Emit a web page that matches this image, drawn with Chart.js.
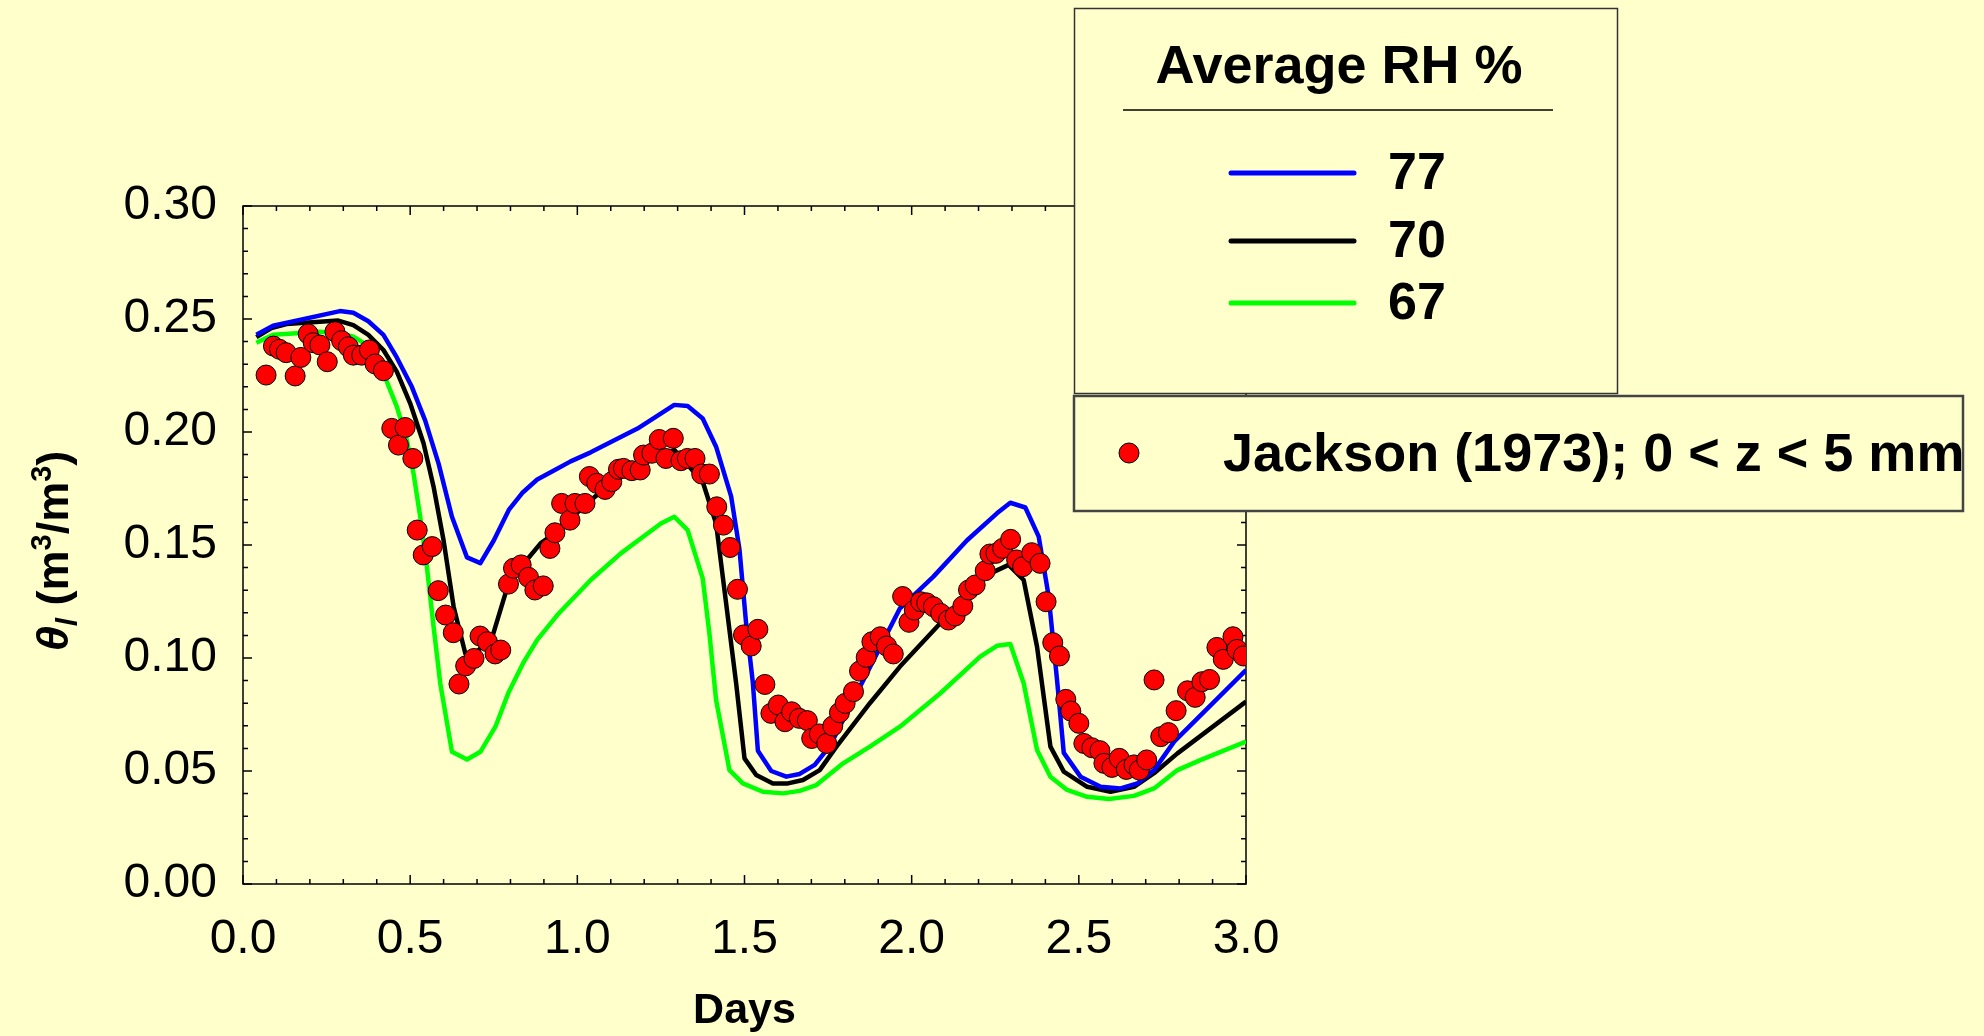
<!DOCTYPE html>
<html>
<head>
<meta charset="utf-8">
<title>Average RH</title>
<script src="https://cdn.jsdelivr.net/npm/chart.js@4.4.1/dist/chart.umd.min.js"></script>
<style>
  html, body { margin: 0; padding: 0; background: #FFFFCC; }
  #wrap { width: 1984px; height: 1036px; }
</style>
</head>
<body>
<div id="wrap"><canvas id="rh-chart" width="1984" height="1036"></canvas></div>
<script>
// simulated water content, one curve per average RH
const rhLabels = ['77', '70', '67'];

const days77 = [0.04, 0.09, 0.29, 0.33, 0.375, 0.42, 0.46, 0.505, 0.545, 0.585, 0.625, 0.67, 0.71, 0.75, 0.795, 0.835, 0.88, 0.93, 0.98, 1.04, 1.18, 1.29, 1.33, 1.375, 1.415, 1.46, 1.485, 1.505, 1.525, 1.54, 1.58, 1.625, 1.665, 1.71, 1.755, 1.965, 2.065, 2.165, 2.255, 2.295, 2.34, 2.38, 2.41, 2.435, 2.455, 2.505, 2.565, 2.625, 2.675, 2.725, 2.785, 3.0];
const theta77 = [0.243, 0.247, 0.2535, 0.2528, 0.249, 0.243, 0.233, 0.220, 0.205, 0.186, 0.1625, 0.1445, 0.142, 0.152, 0.1655, 0.173, 0.179, 0.183, 0.187, 0.191, 0.2015, 0.212, 0.2115, 0.206, 0.1935, 0.1715, 0.148, 0.115, 0.089, 0.059, 0.050, 0.0475, 0.0487, 0.0527, 0.061, 0.122, 0.136, 0.152, 0.164, 0.1687, 0.1666, 0.1537, 0.127, 0.090, 0.058, 0.0475, 0.043, 0.0423, 0.0445, 0.0504, 0.063, 0.0947];

const days70 = [0.04, 0.085, 0.13, 0.285, 0.33, 0.375, 0.42, 0.46, 0.50, 0.54, 0.57, 0.60, 0.63, 0.665, 0.675, 0.745, 0.79, 0.84, 0.89, 0.93, 1.05, 1.13, 1.23, 1.29, 1.375, 1.415, 1.445, 1.475, 1.50, 1.535, 1.585, 1.63, 1.675, 1.725, 1.775, 1.875, 1.965, 2.085, 2.215, 2.29, 2.335, 2.375, 2.415, 2.455, 2.525, 2.595, 2.665, 2.725, 2.795, 3.0];
const theta70 = [0.242, 0.246, 0.2478, 0.2493, 0.2473, 0.243, 0.2363, 0.2267, 0.2127, 0.195, 0.1758, 0.152, 0.1227, 0.102, 0.0995, 0.109, 0.131, 0.1418, 0.1507, 0.155, 0.171, 0.181, 0.189, 0.192, 0.178, 0.1595, 0.1242, 0.0888, 0.0556, 0.0482, 0.0445, 0.0445, 0.046, 0.0504, 0.0608, 0.080, 0.0962, 0.1153, 0.136, 0.1412, 0.1345, 0.105, 0.0608, 0.0497, 0.043, 0.0408, 0.043, 0.049, 0.0578, 0.0807];

const days67 = [0.04, 0.09, 0.23, 0.29, 0.33, 0.38, 0.42, 0.46, 0.49, 0.51, 0.53, 0.55, 0.57, 0.59, 0.625, 0.67, 0.71, 0.755, 0.795, 0.84, 0.88, 0.94, 1.04, 1.13, 1.25, 1.29, 1.33, 1.375, 1.395, 1.415, 1.455, 1.495, 1.555, 1.615, 1.665, 1.715, 1.795, 1.875, 1.965, 2.085, 2.205, 2.255, 2.295, 2.335, 2.375, 2.415, 2.465, 2.525, 2.59, 2.665, 2.725, 2.795, 2.865, 3.0];
const theta67 = [0.2395, 0.243, 0.2444, 0.2437, 0.2422, 0.2377, 0.226, 0.2112, 0.1965, 0.1817, 0.1625, 0.1404, 0.1138, 0.0888, 0.0585, 0.0551, 0.0585, 0.0696, 0.085, 0.0983, 0.108, 0.119, 0.1345, 0.1463, 0.1595, 0.1625, 0.1566, 0.1352, 0.1109, 0.0814, 0.0504, 0.0445, 0.0408, 0.0401, 0.0412, 0.0438, 0.0534, 0.0608, 0.0696, 0.0843, 0.1006, 0.1054, 0.1062, 0.0888, 0.0593, 0.0475, 0.0416, 0.0386, 0.0376, 0.039, 0.0423, 0.0504, 0.0549, 0.063];

// measured, Jackson (1973), 0 < z < 5 mm
const jacksonLabel = 'Jackson (1973); 0 < z < 5 mm';
const jacksonDays = [0.069, 0.091, 0.109, 0.129, 0.156, 0.173, 0.195, 0.21, 0.23, 0.252, 0.275, 0.295, 0.315, 0.33, 0.355, 0.378, 0.395, 0.42, 0.445, 0.465, 0.485, 0.508, 0.521, 0.539, 0.566, 0.584, 0.606, 0.629, 0.646, 0.666, 0.691, 0.709, 0.731, 0.754, 0.771, 0.794, 0.809, 0.832, 0.854, 0.873, 0.898, 0.918, 0.933, 0.953, 0.978, 0.993, 1.023, 1.036, 1.058, 1.083, 1.103, 1.123, 1.138, 1.163, 1.188, 1.198, 1.223, 1.245, 1.265, 1.287, 1.31, 1.329, 1.352, 1.372, 1.395, 1.417, 1.437, 1.457, 1.479, 1.497, 1.52, 1.54, 1.561, 1.579, 1.601, 1.621, 1.641, 1.664, 1.688, 1.701, 1.724, 1.746, 1.764, 1.784, 1.801, 1.826, 1.844, 1.864, 1.881, 1.906, 1.925, 1.945, 1.973, 1.992, 2.008, 2.027, 2.045, 2.065, 2.087, 2.11, 2.13, 2.153, 2.17, 2.19, 2.22, 2.234, 2.252, 2.272, 2.296, 2.314, 2.332, 2.359, 2.384, 2.402, 2.422, 2.442, 2.461, 2.476, 2.5, 2.515, 2.539, 2.563, 2.575, 2.599, 2.621, 2.642, 2.665, 2.681, 2.703, 2.725, 2.745, 2.768, 2.791, 2.825, 2.848, 2.868, 2.891, 2.913, 2.932, 2.961, 2.973, 2.992];
const jacksonTheta = [0.2252, 0.238, 0.2366, 0.2351, 0.2248, 0.233, 0.2434, 0.2395, 0.2385, 0.2311, 0.2444, 0.2404, 0.2377, 0.234, 0.234, 0.2363, 0.2301, 0.2271, 0.2016, 0.1942, 0.202, 0.1883, 0.1566, 0.1456, 0.1493, 0.1298, 0.119, 0.1112, 0.0885, 0.0965, 0.0998, 0.1097, 0.1072, 0.1018, 0.1035, 0.1327, 0.1397, 0.1412, 0.1357, 0.1301, 0.1319, 0.1485, 0.1554, 0.1684, 0.161, 0.1684, 0.1684, 0.1803, 0.1773, 0.1746, 0.178, 0.1835, 0.1839, 0.1829, 0.1832, 0.1898, 0.1906, 0.1967, 0.1883, 0.1972, 0.1873, 0.1883, 0.1883, 0.1814, 0.1814, 0.1669, 0.1588, 0.1489, 0.1304, 0.1102, 0.1053, 0.1127, 0.0883, 0.0755, 0.0792, 0.0718, 0.0762, 0.0733, 0.0723, 0.0644, 0.0664, 0.0622, 0.0699, 0.0758, 0.0799, 0.0851, 0.0942, 0.1003, 0.1072, 0.1094, 0.1053, 0.1018, 0.1272, 0.1158, 0.1212, 0.1249, 0.1244, 0.1227, 0.1197, 0.1168, 0.1186, 0.123, 0.1301, 0.1323, 0.1386, 0.146, 0.1463, 0.1485, 0.1525, 0.1434, 0.1404, 0.1466, 0.1419, 0.1249, 0.1068, 0.1009, 0.0817, 0.0765, 0.0711, 0.0622, 0.0603, 0.059, 0.0534, 0.0516, 0.0556, 0.0507, 0.0527, 0.0504, 0.0549, 0.0903, 0.0652, 0.067, 0.0767, 0.0855, 0.0826, 0.0895, 0.0905, 0.1047, 0.0994, 0.1094, 0.1038, 0.1009];

const legendTitle = 'Average RH %';
const xTitle = 'Days';

const FAM = "'Liberation Sans', Arial, sans-serif";
const BG = '#FFFFCC';

const toPoints = function(xs, ys) {
    return xs.map(function(x, i) { return {x: x, y: ys[i]}; });
};

// background fill
const bgPlugin = {
    id: 'bg',
    beforeDraw: function(chart) {
        const ctx = chart.ctx;
        ctx.save();
        ctx.fillStyle = BG;
        ctx.fillRect(0, 0, chart.width, chart.height);
        ctx.restore();
    }
};

// box round the plot with inward major / minor ticks on all sides
const frameTicksPlugin = {
    id: 'frameTicks',
    beforeDatasetsDraw: function(chart) {
        const ctx = chart.ctx, a = chart.chartArea;
        const xs = chart.scales.x, ys = chart.scales.y;
        ctx.save();
        ctx.strokeStyle = '#000';
        ctx.lineWidth = 1.5;
        ctx.strokeRect(a.left, a.top, a.right - a.left, a.bottom - a.top);
        ctx.beginPath();
        const nx = Math.round((xs.max - xs.min) / 0.1);
        for (let i = 0; i <= nx; i++) {
            const px = xs.getPixelForValue(xs.min + i * 0.1);
            const len = i % 5 === 0 ? 9 : 5;
            ctx.moveTo(px, a.bottom); ctx.lineTo(px, a.bottom - len);
            ctx.moveTo(px, a.top); ctx.lineTo(px, a.top + len);
        }
        const ny = Math.round((ys.max - ys.min) / 0.01);
        for (let j = 0; j <= ny; j++) {
            const py = ys.getPixelForValue(ys.min + j * 0.01);
            const len = j % 5 === 0 ? 9 : 5;
            ctx.moveTo(a.left, py); ctx.lineTo(a.left + len, py);
            ctx.moveTo(a.right, py); ctx.lineTo(a.right - len, py);
        }
        ctx.stroke();
        ctx.restore();
    }
};

// y title with italic theta, subscript l and superscripts
const yTitlePlugin = {
    id: 'yTitle',
    afterDraw: function(chart) {
        const ctx = chart.ctx, a = chart.chartArea;
        const parts = [
            {t: '\u03B8', f: 'italic bold 45px ' + FAM, dy: 0},
            {t: 'l', f: 'italic bold 30px ' + FAM, dy: 9},
            {t: ' (m', f: 'bold 45px ' + FAM, dy: 0},
            {t: '3', f: 'bold 29px ' + FAM, dy: -17},
            {t: '/m', f: 'bold 45px ' + FAM, dy: 0},
            {t: '3', f: 'bold 29px ' + FAM, dy: -17},
            {t: ')', f: 'bold 45px ' + FAM, dy: 0}
        ];
        ctx.save();
        let w = 0;
        parts.forEach(function(p) { ctx.font = p.f; p.w = ctx.measureText(p.t).width; w += p.w; });
        ctx.translate(68, (a.top + a.bottom) / 2 + 6);
        ctx.rotate(-Math.PI / 2);
        ctx.fillStyle = '#000';
        ctx.textBaseline = 'alphabetic';
        ctx.textAlign = 'left';
        let x = -w / 2;
        parts.forEach(function(p) { ctx.font = p.f; ctx.fillText(p.t, x, p.dy); x += p.w; });
        ctx.restore();
    }
};

// the two legend boxes, drawn over the top right of the plot
const legendBoxPlugin = {
    id: 'legendBoxes',
    afterDraw: function(chart) {
        const ctx = chart.ctx;
        const sets = chart.data.datasets;
        ctx.save();
        // box 1: model curves
        ctx.fillStyle = BG;
        ctx.fillRect(1074, 8, 543, 385);
        ctx.strokeStyle = '#333';
        ctx.lineWidth = 1.5;
        ctx.strokeRect(1074.5, 8.5, 543, 385);
        ctx.fillStyle = '#000';
        ctx.font = 'bold 54px ' + FAM;
        ctx.textAlign = 'center';
        ctx.textBaseline = 'alphabetic';
        ctx.fillText(legendTitle, 1339, 83);
        ctx.beginPath();
        ctx.lineWidth = 1.5;
        ctx.strokeStyle = '#000';
        ctx.moveTo(1123, 110); ctx.lineTo(1553, 110);
        ctx.stroke();
        const rows = [173, 241, 303];
        ctx.font = 'bold 52px ' + FAM;
        ctx.textAlign = 'left';
        ctx.textBaseline = 'middle';
        sets.filter(function(d) { return d.showLine; }).forEach(function(d, i) {
            ctx.beginPath();
            ctx.strokeStyle = d.borderColor;
            ctx.lineWidth = 5;
            ctx.lineCap = 'round';
            ctx.moveTo(1231, rows[i]); ctx.lineTo(1354, rows[i]);
            ctx.stroke();
            ctx.fillStyle = '#000';
            ctx.fillText(d.label, 1388, rows[i] + 2);
        });
        // box 2: measurements
        ctx.fillStyle = BG;
        ctx.fillRect(1074, 396, 889, 115);
        ctx.strokeStyle = '#444';
        ctx.lineWidth = 2.5;
        ctx.lineCap = 'butt';
        ctx.strokeRect(1074, 396, 889, 115);
        const pts = sets[0];
        ctx.beginPath();
        ctx.arc(1129, 453, 10, 0, Math.PI * 2);
        ctx.fillStyle = pts.backgroundColor;
        ctx.fill();
        ctx.lineWidth = 1;
        ctx.strokeStyle = pts.borderColor;
        ctx.stroke();
        ctx.fillStyle = '#000';
        ctx.font = 'bold 54px ' + FAM;
        ctx.textBaseline = 'middle';
        ctx.fillText(pts.label, 1223, 456);
        ctx.restore();
    }
};

const ctx = document.getElementById('rh-chart').getContext('2d');
const rhChart = new Chart(ctx, {
    type: 'scatter',
    data: {
        datasets: [
            {
                label: jacksonLabel,
                data: toPoints(jacksonDays, jacksonTheta),
                showLine: false,
                pointRadius: 10,
                pointBackgroundColor: '#FF0000',
                pointBorderColor: '#000',
                pointBorderWidth: 1,
                backgroundColor: '#FF0000',
                borderColor: '#000'
            },
            {
                label: rhLabels[0],
                data: toPoints(days77, theta77),
                showLine: true,
                borderColor: '#0000FF',
                borderWidth: 4.5,
                pointRadius: 0,
                borderJoinStyle: 'round'
            },
            {
                label: rhLabels[1],
                data: toPoints(days70, theta70),
                showLine: true,
                borderColor: '#000000',
                borderWidth: 4.5,
                pointRadius: 0,
                borderJoinStyle: 'round'
            },
            {
                label: rhLabels[2],
                data: toPoints(days67, theta67),
                showLine: true,
                borderColor: '#00FF00',
                borderWidth: 4.5,
                pointRadius: 0,
                borderJoinStyle: 'round'
            }
        ]
    },
    options: {
        responsive: false,
        animation: false,
        events: [],
        layout: { padding: { left: 0, top: 206, right: 738, bottom: 0 } },
        plugins: {
            legend: { display: false },
            tooltip: { enabled: false }
        },
        scales: {
            x: {
                type: 'linear',
                position: 'bottom',
                min: 0,
                max: 3,
                grid: { display: false, drawTicks: false },
                border: { display: false },
                ticks: {
                    stepSize: 0.5,
                    autoSkip: false,
                    maxRotation: 0,
                    padding: 27,
                    color: '#000',
                    font: { family: FAM, size: 48 },
                    callback: function(v) { return Number(v).toFixed(1); }
                },
                title: {
                    display: true,
                    text: xTitle,
                    color: '#000',
                    font: { family: FAM, size: 43, weight: 'bold', lineHeight: 1 },
                    padding: { top: 0, bottom: 3 }
                },
                afterFit: function(scale) { scale.height = 152; }
            },
            y: {
                type: 'linear',
                position: 'left',
                min: 0,
                max: 0.30,
                grid: { display: false, drawTicks: false },
                border: { display: false },
                ticks: {
                    stepSize: 0.05,
                    autoSkip: false,
                    padding: 26,
                    color: '#000',
                    font: { family: FAM, size: 48 },
                    callback: function(v) { return Number(v).toFixed(2); }
                },
                afterFit: function(scale) { scale.width = 243; }
            }
        }
    },
    plugins: [bgPlugin, frameTicksPlugin, yTitlePlugin, legendBoxPlugin]
});
</script>
</body>
</html>
